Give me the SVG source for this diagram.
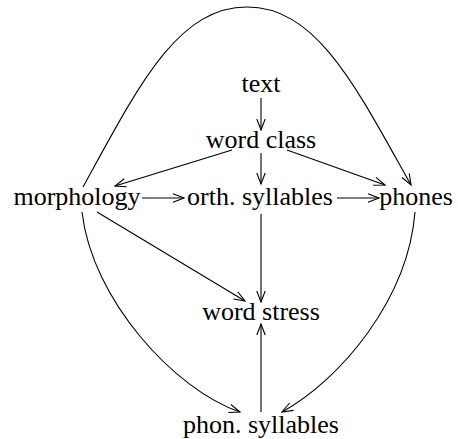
<svg xmlns="http://www.w3.org/2000/svg" width="458" height="439" viewBox="0 0 458 439">
<defs>
<marker id="arr" markerUnits="userSpaceOnUse" markerWidth="14" markerHeight="12" refX="0" refY="0" viewBox="-12 -6 14 12" orient="auto" overflow="visible">
<path d="M-11,-4.2 L0,0 L-11,4.2" fill="none" stroke="#000" stroke-width="1.1"/>
</marker>
<style>
text{font-family:"Liberation Serif","Times New Roman",serif;font-size:26px;fill:#000;text-anchor:middle}
.e{fill:none;stroke:#000;stroke-width:1.1;marker-end:url(#arr)}
</style>
</defs>
<rect width="458" height="439" fill="#fff"/>
<g id="connectors">
<path class="e" d="M261,98 L261,130"/>
<path class="e" d="M232,150 L115,186"/>
<path class="e" d="M261,153 L261,184"/>
<path class="e" d="M287,150 L385,185"/>
<path class="e" d="M142,198 L184,198"/>
<path class="e" d="M337,198 L379,198"/>
<path class="e" d="M261,214 L261,302"/>
<path class="e" d="M97,212 L245,301"/>
<path class="e" d="M261,412 L261,324"/>
<path class="e" d="M83,187 C138,87 177,7 247,7 C317,7 356,87 411,185"/>
<path class="e" d="M82,212 C92,300 175,390 240,412"/>
<path class="e" d="M415,212 C408,300 340,380 282,412"/>
</g>
<g id="text"><text x="261" y="92">text</text></g>
<g id="word-class"><text x="261" y="148">word class</text></g>
<g id="morphology"><text x="77" y="205">morphology</text></g>
<g id="orth-syllables"><text x="260" y="205">orth. syllables</text></g>
<g id="phones"><text x="416" y="205">phones</text></g>
<g id="word-stress"><text x="261" y="320">word stress</text></g>
<g id="phon-syllables"><text x="261" y="433">phon. syllables</text></g>
</svg>
